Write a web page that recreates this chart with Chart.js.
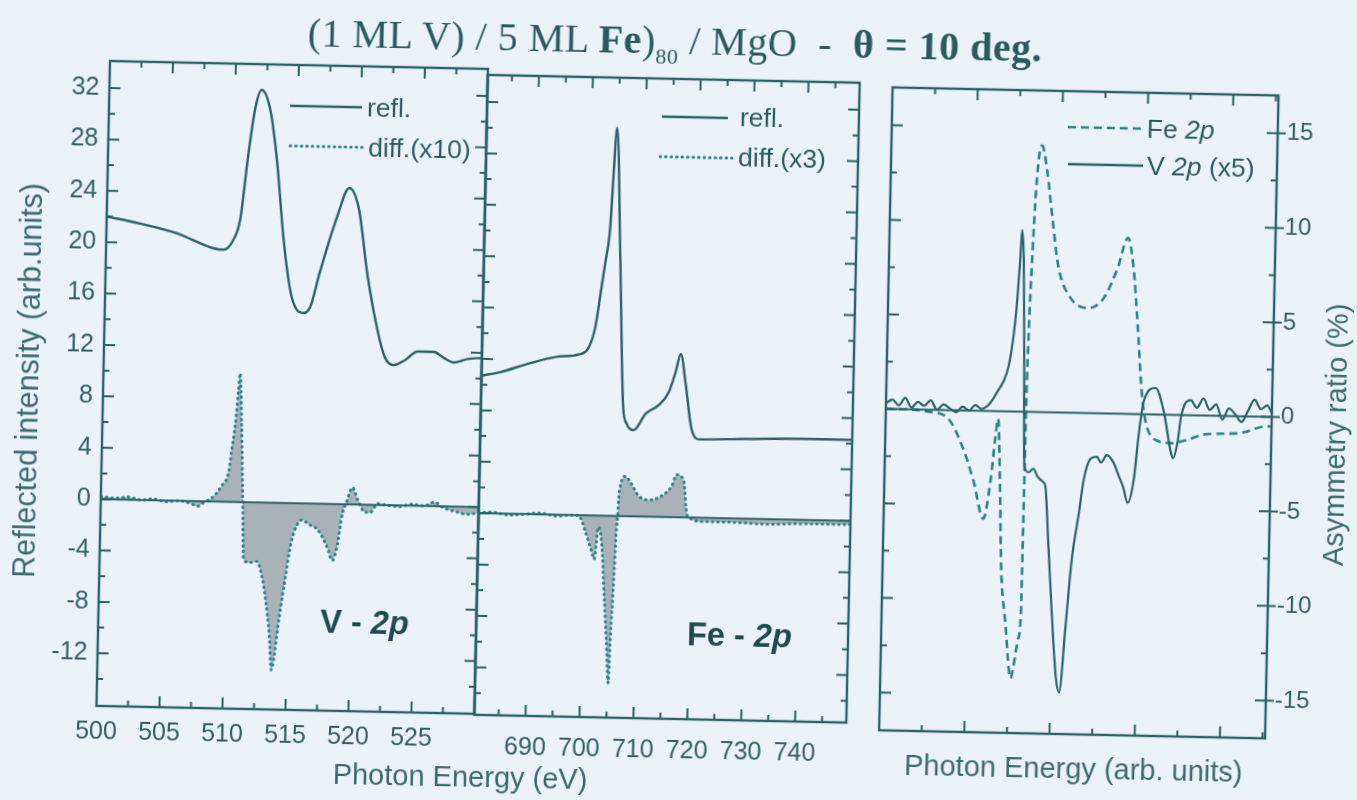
<!DOCTYPE html>
<html lang="en">
<head>
    <meta charset="UTF-8">
    <title>(1 ML V) / 5 ML Fe)80 / MgO - θ = 10 deg.</title>
    <script src="https://cdn.jsdelivr.net/npm/chart.js"></script>
    <style>
        body { margin: 0; background: #ebf3f9; overflow: hidden; }
        #page { position: relative; width: 1357px; height: 800px; overflow: hidden;
                font-family: "Liberation Sans", Arial, sans-serif; color: #2c5c60; }
        /* the scanned figure sits slightly skewed on the page */
        #tilt { position: absolute; left: 0; top: 0; width: 1357px; height: 800px;
                transform: rotate(1.2deg); transform-origin: 678px 400px; }
        #tilt canvas, #tilt svg { position: absolute; left: 0; top: 0; }
        .txt { position: absolute; white-space: nowrap; line-height: 1; }
        .title { left: 0; width: 1335px; text-align: center; top: 21px; letter-spacing: 0.5px;
                 font-family: "Liberation Serif", "DejaVu Serif", serif; font-size: 40px; color: #285a5e; }
        .title sub { font-size: 22px; vertical-align: -10px; line-height: 0; }
        .legend { font-size: 26.5px; transform: translateY(-50%); }
        .label { font-size: 32.5px; font-weight: bold; color: #1f4a4e; }
        .axis-title { font-size: 29px; color: #3b6b6e; }
        .rot { transform: translate(-50%, -50%) rotate(-90deg); }
        .ctr { transform: translate(-50%, -50%); }
    </style>
</head>
<body>
<div id="page">
  <div id="tilt">
    <canvas id="vPanel" width="1357" height="800"></canvas>
    <canvas id="fePanel" width="1357" height="800"></canvas>
    <canvas id="asymPanel" width="1357" height="800"></canvas>

    <svg width="1357" height="800">
        <g stroke="#2a6266" stroke-width="2.5" fill="none">
            <line x1="284" y1="114" x2="356" y2="114"/>
            <line x1="285" y1="154" x2="360" y2="154" stroke="#2b8288" stroke-width="3" stroke-dasharray="0.5 5" stroke-linecap="round"/>
            <line x1="656" y1="117" x2="722" y2="117"/>
            <line x1="655" y1="157" x2="728" y2="157" stroke="#2b8288" stroke-width="3" stroke-dasharray="0.5 5" stroke-linecap="round"/>
            <line x1="1062" y1="119" x2="1137" y2="119" stroke="#2b8288" stroke-dasharray="8 5"/>
            <line x1="1063" y1="156" x2="1138" y2="156"/>
        </g>
    </svg>

    <div class="txt title">(1 ML V) / 5 ML <b>Fe</b>)<sub>80</sub> / MgO&nbsp; - &nbsp;<b>θ = 10 deg.</b></div>

    <div class="txt legend" style="left:361px; top:114px;">refl.</div>
    <div class="txt legend" style="left:363px; top:154px;">diff.(x10)</div>
    <div class="txt legend" style="left:734px; top:116px;">refl.</div>
    <div class="txt legend" style="left:733px; top:156px;">diff.(x3)</div>
    <div class="txt legend" style="left:1141px; top:119px;">Fe <i>2p</i></div>
    <div class="txt legend" style="left:1142px; top:156px;">V <i>2p</i> (x5)</div>

    <div class="txt label" style="left:325px; top:613px;">V - <i>2p</i></div>
    <div class="txt label" style="left:692px; top:618px;">Fe - <i>2p</i></div>

    <div class="txt axis-title rot" style="left:27px; top:394px; font-size:30.5px;">Reflected intensity (arb.units)</div>
    <div class="txt axis-title rot" style="left:1336px; top:421px;">Asymmetry ratio (%)</div>
    <div class="txt axis-title ctr" style="left:468px; top:781px;">Photon Energy (eV)</div>
    <div class="txt axis-title ctr" style="left:1081px; top:760px;">Photon Energy (arb. units)</div>
  </div>
</div>

<script>
    // V 2p edge: reflectivity and difference (x10)
    const vReflE = [500, 502.65, 505.6, 508.5, 509.3, 510.1, 510.6, 511.1, 511.6, 512.1,
                    512.8, 513.4, 514.1, 514.7, 515.2, 515.8, 516.3, 517.0, 518.3, 519.2,
                    520.0, 520.8, 521.7, 522.3, 523.0, 523.9, 524.9, 526.2, 526.9, 527.8,
                    528.9, 530];
    const vRefl = [22.0, 21.5, 20.8, 19.7, 19.6, 20.4, 22.0, 26.7, 30.6, 32.1,
                   30.6, 26.8, 20.3, 16.5, 15.1, 14.8, 15.3, 18.0, 22.4, 24.6,
                   23.0, 17.8, 13.5, 11.5, 10.9, 11.3, 12.0, 12.0, 11.6, 11.2,
                   11.5, 11.6];
    const vDiffE = [500, 501.17, 502.17, 503.17, 504.17, 505.17, 506.17, 507.17, 507.67, 508.17,
                    508.96, 509.55, 510.12, 510.29, 510.55, 510.74, 510.85, 511.05, 511.27, 511.42,
                    511.87, 512.47, 512.9, 513.23, 513.6, 513.8, 513.98, 514.28, 514.8, 515.15,
                    515.52, 516.0, 516.5, 517.32, 518.05, 518.47, 518.85, 519.2, 519.48, 519.95,
                    520.37, 521.0, 521.4, 521.97, 522.67, 523.67, 524.67, 525.67, 526.47, 527.17,
                    528.17, 529.17, 530];
    const vDiff = [0.2, 0.1, 0.2, 0.0, 0.1, -0.1, 0.0, -0.2, -0.4, -0.1,
                   0.4, 1.2, 2.4, 3.9, 6.0, 8.6, 10.0, 6.0, 0.0, -4.4,
                   -4.7, -4.6, -5.7, -7.5, -10.4, -13.0, -12.2, -9.5, -5.6, -3.2,
                   -1.9, -1.3, -1.6, -2.1, -3.4, -4.4, -3.1, -0.7, 0.1, 1.3,
                   0.4, -0.6, -0.6, 0.1, 0.0, -0.1, 0.1, 0.0, 0.3, -0.1,
                   -0.4, -0.6, -0.4];

    // Fe 2p edge: reflectivity and difference (x3)
    const feReflE = [680.5, 684, 689.1, 694.6, 698.4, 700.2, 701.4, 702.4, 703.0, 703.8,
                     704.2, 704.7, 705.8, 706.9, 707.6, 708.9, 711.1, 713.5, 715.3, 716.5,
                     717.4, 718.4, 719.6, 721.1, 730, 740, 749.5];
    const feRefl = [10.7, 11.0, 11.7, 12.3, 12.5, 13.0, 14.6, 17.7, 19.6, 22.4,
                    26.3, 30.2, 20.0, 8.5, 7.2, 6.7, 8.0, 8.7, 9.7, 11.3,
                    12.7, 10.4, 7.0, 6.1, 6.2, 6.3, 6.3];
    const feDiffE = [680.5, 683, 686, 689, 692, 695, 697.5, 699.0, 700.4, 701.6,
                     702.1, 702.8, 703.4, 704.2, 704.7, 705.2, 705.4, 705.8, 706.1, 706.3,
                     706.5, 707.6, 708.6, 710.1, 712.0, 713.8, 716.2, 717.1, 718.4, 719.1,
                     719.9, 721.4, 727, 734, 741, 749.5];
    const feDiff = [0.0, 0.1, -0.1, 0.0, 0.1, -0.1, 0.0, 0.0, -1.3, -2.8,
                    -3.4, -0.9, -2.0, -6.8, -9.9, -13.0, -9.8, -5.2, -1.3, 0.0,
                    1.8, 3.1, 2.6, 1.6, 1.3, 1.5, 2.4, 3.3, 2.9, 0.3,
                    -0.1, -0.3, -0.3, -0.4, -0.3, -0.3];

    // asymmetry ratio, photon energy in arbitrary units
    const asymFeX = [0, 0.5, 1.0, 1.45, 1.83, 2.09, 2.34, 2.49, 2.58, 2.64,
                     2.71, 2.785, 2.91, 3.06, 3.11, 3.22, 3.27, 3.28, 3.285, 3.29,
                     3.31, 3.37, 3.44, 3.54, 3.68, 3.82, 3.98, 4.27, 4.68, 5.06,
                     5.37, 5.60, 5.74, 5.88, 5.97, 6.05, 6.155, 6.40, 6.70, 7.10,
                     7.48, 8.28, 8.97, 9.06];
    const asymFe = [0.0, 0.0, -0.1, -0.4, -2.0, -3.7, -5.7, -3.7, -1.5, -0.4,
                    -3.6, -8.3, -11.2, -14.1, -13.6, -12.0, -10.6, -6.0, -3.5, -0.2,
                    3.5, 8.8, 12.6, 14.1, 12.6, 10.2, 7.7, 6.1, 5.55, 6.1,
                    7.7, 9.3, 7.8, 4.4, 1.8, 0.2, -0.8, -1.4, -1.5, -1.3,
                    -1.0, -0.9, -0.5, -0.5];
    const asymVX = [0, 0.15, 0.3, 0.45, 0.6, 0.75, 0.9, 1.05, 1.2, 1.35,
                    1.5, 1.65, 1.8, 1.95, 2.1, 2.25, 2.4, 2.5, 2.6, 2.75,
                    2.86, 2.97, 3.03, 3.08, 3.11, 3.165, 3.22, 3.28, 3.375, 3.49,
                    3.59, 3.73, 3.78, 3.88, 3.99, 4.12, 4.205, 4.32, 4.43, 4.58,
                    4.68, 4.83, 4.98, 5.07, 5.21, 5.37, 5.50, 5.61, 5.72, 5.85,
                    5.95, 6.05, 6.32, 6.53, 6.70, 6.76, 6.87, 6.93, 7.15, 7.3,
                    7.45, 7.6, 7.75, 7.9, 8.05, 8.2, 8.35, 8.5, 8.65, 8.8,
                    8.95, 9.06];
    const asymV = [0.3, 0.5, 0.2, 0.6, 0.1, 0.4, 0.2, 0.5, 0.0, 0.3,
                   0.1, -0.1, 0.2, 0.0, 0.3, 0.1, 0.3, 0.6, 1.0, 1.6,
                   2.4, 4.2, 5.9, 8.0, 9.6, 8.0, 3.0, -2.9, -3.2, -3.0,
                   -3.4, -3.7, -3.9, -7.0, -10.5, -14.0, -14.8, -11.4, -7.9, -5.3,
                   -3.5, -2.4, -2.3, -2.6, -2.2, -2.6, -3.3, -3.9, -4.7, -3.5,
                   -1.0, 0.7, 1.4, 0.1, -1.9, -2.3, -1.3, -0.1, 0.8, 0.4,
                   0.9, 0.3, 0.6, -0.2, 0.4, 0.1, -0.3, 0.3, 0.9, 0.4,
                   0.6, 0.2];

    // tick labels
    const vTicksX = [500, 505, 510, 515, 520, 525];
    const feTicksX = [690, 700, 710, 720, 730, 740];
    const reflTicksY = [-12, -8, -4, 0, 4, 8, 12, 16, 20, 24, 28, 32];
    const asymTicksY = [-15, -10, -5, 0, 5, 10, 15];

    const LINE = '#2a6266';
    const DOT = '#2b8288';
    const GRAY = 'rgba(110, 118, 120, 0.52)';
    const TXT = '#315f63';
    const SANS = '"Liberation Sans", Arial, sans-serif';

    const pts = (xs, ys) => xs.map((x, i) => ({ x: x, y: ys[i] }));

    // box around the plot area with inward major/minor ticks on every side
    const framePlugin = {
        id: 'frame',
        afterDatasetsDraw(chart, args, o) {
            const { ctx, chartArea: a, scales } = chart;
            ctx.save();
            ctx.strokeStyle = LINE;
            ctx.lineWidth = 2.4;
            ctx.strokeRect(a.left, a.top, a.right - a.left, a.bottom - a.top);
            ctx.lineWidth = 2;
            const each = (scale, major, minor, fn) => {
                const start = Math.ceil(scale.min / minor - 1e-9) * minor;
                for (let v = start; v <= scale.max + 1e-9; v += minor) {
                    const r = v / major;
                    fn(scale.getPixelForValue(v), Math.abs(r - Math.round(r)) < 1e-6);
                }
            };
            ctx.beginPath();
            each(scales.x, o.xMajor, o.xMinor, (p, big) => {
                if (p < a.left + 2 || p > a.right - 2) return;
                const len = big ? 11 : 6;
                ctx.moveTo(p, a.bottom); ctx.lineTo(p, a.bottom - len);
                ctx.moveTo(p, a.top); ctx.lineTo(p, a.top + len);
            });
            each(scales.y, o.yMajor, o.yMinor, (p, big) => {
                if (p < a.top + 2 || p > a.bottom - 2) return;
                const len = big ? 11 : 6;
                ctx.moveTo(a.left, p); ctx.lineTo(a.left + len, p);
                ctx.moveTo(a.right, p); ctx.lineTo(a.right - len, p);
                if (o.outRight && big) { ctx.moveTo(a.right, p); ctx.lineTo(a.right + 8, p); }
            });
            ctx.stroke();
            ctx.restore();
        }
    };
    Chart.register(framePlugin);

    // labelled ticks come straight from the label arrays
    function axis(min, max, labels, show, size, padding, fit) {
        return {
            type: 'linear', min: min, max: max, display: show, bounds: 'data',
            grid: { display: false, drawTicks: false },
            border: { display: false },
            ticks: {
                autoSkip: false, maxRotation: 0, padding: padding,
                color: TXT, font: { family: SANS, size: size },
                callback: v => String(v)
            },
            afterBuildTicks: s => { s.ticks = labels.map(v => ({ value: v })); },
            afterFit: fit
        };
    }

    function options(padding, frame, x, y) {
        return {
            responsive: false,
            animation: false,
            events: [],
            layout: { padding: padding },
            elements: {
                point: { radius: 0 },
                line: { cubicInterpolationMode: 'monotone', borderJoinStyle: 'round' }
            },
            plugins: { legend: { display: false }, tooltip: { enabled: false }, frame: frame },
            scales: { x: x, y: y }
        };
    }

    const solid = (data, w) => ({ data: data, borderColor: LINE, borderWidth: w, fill: false });
    const dotted = data => ({
        data: data, borderColor: DOT, borderWidth: 3, borderDash: [0.5, 5], borderCapStyle: 'round',
        fill: 'origin', backgroundColor: GRAY
    });

    new Chart(document.getElementById('vPanel'), {
        type: 'line',
        data: {
            datasets: [
                solid(pts(vReflE, vRefl), 2.4),
                solid([{ x: 500, y: 0 }, { x: 530, y: 0 }], 2),
                dotted(pts(vDiffE, vDiff))
            ]
        },
        options: options(
            { left: 0, top: 73, right: 876, bottom: 0 },
            { xMajor: 5, xMinor: 2.5, yMajor: 4, yMinor: 2 },
            axis(500, 530, vTicksX, true, 25, 11, s => { s.height = 82; }),
            axis(-16.1, 34.1, reflTicksY, true, 25, 10, s => { s.width = 103; })
        )
    });

    new Chart(document.getElementById('fePanel'), {
        type: 'line',
        data: {
            datasets: [
                solid(pts(feReflE, feRefl), 2.4),
                solid([{ x: 680.5, y: 0 }, { x: 749.5, y: 0 }], 2),
                dotted(pts(feDiffE, feDiff))
            ]
        },
        options: options(
            { left: 481, top: 79, right: 504, bottom: 21 },
            { xMajor: 10, xMinor: 5, yMajor: 4, yMinor: 2 },
            axis(680.5, 749.5, feTicksX, true, 25, 17, s => { s.height = 60; }),
            axis(-15.7, 34.1, [], false, 25, 0)
        )
    });

    new Chart(document.getElementById('asymPanel'), {
        type: 'line',
        data: {
            datasets: [
                solid(pts(asymVX, asymV), 2.2),
                solid([{ x: 0, y: 0 }, { x: 9.06, y: 0 }], 2),
                { data: pts(asymFeX, asymFe), borderColor: DOT, borderWidth: 2.6, borderDash: [8, 5], fill: false }
            ]
        },
        options: (() => {
            const o = options(
                { left: 886, top: 83, right: 15, bottom: 74 },
                { xMajor: 2, xMinor: 1, yMajor: 5, yMinor: 2.5, outRight: true },
                axis(0, 9.06, [], false, 24, 0),
                axis(-17.0, 17.0, asymTicksY, true, 24, 9, s => { s.width = 70; })
            );
            o.scales.y.position = 'right';
            return o;
        })()
    });
</script>
</body>
</html>
